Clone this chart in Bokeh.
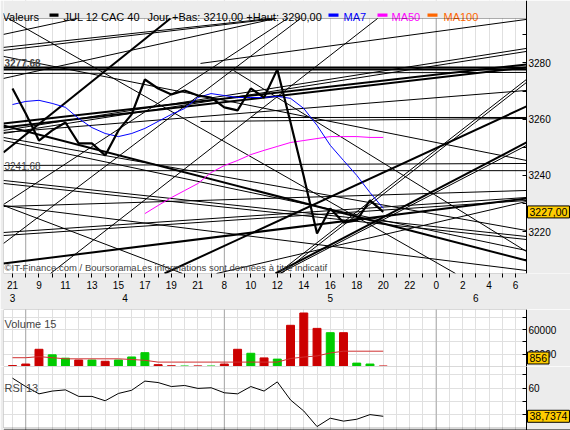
from bokeh.plotting import figure
from bokeh.models import (ColumnDataSource, FixedTicker, Range1d, Label, Span, BoxAnnotation, LinearAxis)
from bokeh.layouts import column
from bokeh.embed import file_html
from bokeh.resources import INLINE

FONT = "Liberation Sans"
BG = "#ECECEC"
W = 570

# ---------------- data ----------------
slots = list(range(29))
price = [3270.9, 3262.0, 3252.4, 3256.0, 3258.8, 3251.4, 3251.4, 3247.1, 3256.0, 3261.7,
         3274.1, 3270.9, 3268.8, 3270.2, 3268.4, 3267.7, 3264.2, 3263.1, 3270.9, 3267.7,
         3277.7, 3258.8, 3239.6, 3219.3, 3228.2, 3223.2, 3224.0, 3231.1, 3227.0]
ma7 = [3265.2, 3266.3, 3266.7, 3265.6, 3264.2, 3260.2, 3257.0, 3254.9, 3253.8, 3254.9,
       3256.7, 3259.2, 3261.7, 3263.8, 3267.7, 3269.1, 3268.4, 3267.7, 3267.7, 3267.7,
       3268.1, 3267.4, 3263.8, 3257.8, 3250.7, 3245.3, 3240.0, 3233.9, 3228.3]
ma50_slots = list(range(10, 29))
ma50 = [3226.4, 3229.3, 3232.1, 3234.6, 3237.1, 3241.0, 3243.5, 3245.3, 3247.4, 3248.9,
        3250.3, 3251.7, 3252.4, 3253.1, 3253.8, 3253.8, 3253.8, 3253.5, 3253.5]
volume = [1500, 4000, 28000, 19000, 13500, 10500, 10500, 8500, 10500, 15500,
          22500, 3000, 1200, 800, 1000, 800, 4000, 28000, 21500, 14000,
          12000, 67000, 87000, 62000, 55000, 55000, 5500, 4000, 856]
vol_up = [0, 0, 0, 1, 1, 0, 1, 0, 1, 1,
          1, 0, 0, 1, 0, 1, 0, 0, 1, 0,
          1, 0, 0, 0, 1, 0, 1, 1, 0]
vol_ma = [14300, 14300, 16000, 14300, 12500, 12500, 12500, 12500, 12500, 11400,
          10100, 7150, 7150, 7150, 7150, 7150, 7150, 7150, 7150, 7150,
          7150, 13000, 15400, 17200, 22000, 24900, 24900, 24900, 24900]
rsi = [67.4, 61.1, 55.6, 57.7, 58.6, 53.7, 53.7, 50.4, 55.9, 58.3,
       65.2, 64.1, 61.1, 61.9, 59.7, 60.2, 56.4, 55.6, 61.1, 57.7,
       64.6, 51.0, 42.7, 31.0, 37.3, 35.1, 36.5, 40.0, 38.74]

hour_slots = list(range(0, 39))
hour_labels = {0: "21", 2: "9", 4: "11", 6: "13", 8: "15", 10: "17", 12: "19", 14: "21",
               16: "8", 18: "10", 20: "12", 22: "14", 24: "16", 26: "18", 28: "20",
               30: "22", 32: "0", 34: "2", 36: "4", 38: "6"}
day_pos = [0, 8.5, 24, 35]
day_labels = ["3", "4", "5", "6"]
day_starts = [1, 16, 32]

# trend lines (slot, price); 38.82 = right edge of the chart area
thick_x0 = [-0.68, -0.68, -0.68, -0.68, -0.68, 11.48, 19.86, -0.68, -0.68]
thick_y0 = [3278.40, 3277.68, 3258.47, 3257.05, 3248.15, 3205.1, 3205.1, 3208.65, 3257.76]
thick_x1 = [38.82, 38.82, 38.82, 38.82, 11.93, 38.82, 38.82, 38.82, 38.82]
thick_y1 = [3278.40, 3277.68, 3279.47, 3278.40, 3295.8, 3264.52, 3251.71, 3231.78, 3209.72]

thin_x0 = [-0.68, -0.68, -0.68, -0.68, 16.69, -0.68, -0.68, 20.02, 20.32, 20.17,
           -0.68, -0.68, 15.41, -0.68, -0.68, -0.68, 17.98, 14.20, -0.68, -0.68,
           2.87, -0.30, -0.68, -0.68, -0.68, -0.68, -0.68, -0.68, -0.68, -0.68,
           14.20, -0.68]
thin_y0 = [3276.26, 3255.98, 3254.91, 3282.31, 3277.33, 3229.29, 3253.49, 3205.1, 3205.1, 3205.1,
           3219.68, 3218.61, 3205.1, 3228.93, 3243.52, 3241.68, 3260.60, 3259.18, 3255.27, 3215.77,
           3205.1, 3295.8, 3285.52, 3284.45, 3290.14, 3229.64, 3238.19, 3237.12, 3229.29, 3274.48,
           3279.82, 3252.42]
thin_x1 = [38.82, 38.82, 38.82, 38.82, 38.82, 38.82, 38.82, 38.82, 38.82, 38.82,
           38.82, 38.82, 38.82, 38.82, 38.82, 38.82, 38.82, 38.82, 38.82, 21.75,
           27.57, 33.46, 19.49, 19.94, 4.91, 20.77, 38.82, 38.82, 12.84, 19.86,
           38.82, 38.82]
thin_y1 = [3276.62, 3285.16, 3284.09, 3245.30, 3212.92, 3206.16, 3220.39, 3274.13, 3273.06, 3250.64,
           3232.14, 3231.07, 3230.71, 3234.63, 3244.23, 3241.68, 3260.60, 3260.25, 3270.21, 3295.8,
           3295.8, 3205.1, 3295.8, 3295.8, 3295.8, 3295.8, 3218.26, 3217.19, 3205.1, 3295.8,
           3295.48, 3213.27]

last_price = 3227.00
last_vol = 856
last_rsi = 38.7374

# ---------------- geometry ----------------
PX_SLOT = 13.24          # pixels per hour slot
SLOT0_PX = 12            # pixel x of slot 0
FRAME_L = 3              # frame starts at this pixel


def px2slot(px):
    return (px - SLOT0_PX) / PX_SLOT


X0 = px2slot(FRAME_L)    # left edge of chart area
X1 = px2slot(526)        # right edge of chart area (axis line)
XR = px2slot(W)          # right edge of the figure frame
GRID = "#E0E0E0"
DAYC = "#A8A8A8"


def box_label(fig, y, text, y_offset=0):
    fig.add_layout(Label(x=X1, y=y, x_offset=1, y_offset=y_offset, text=text, text_font=FONT,
                         text_font_size="10.5px", text_baseline="middle", text_align="left",
                         text_color="black", background_fill_color="#FFCC00",
                         border_line_color="black", padding=2))


def make_panel(height, y0, y1, ticks, labelled, border_bottom, border_top, min_bottom=0, xaxis=False):
    f = figure(width=W, height=height, x_range=Range1d(X0, XR), y_range=Range1d(y0, y1),
               toolbar_location=None, output_backend="svg",
               x_axis_location="below" if xaxis else None, y_axis_location=None,
               min_border_left=FRAME_L, min_border_right=0, min_border_top=0,
               min_border_bottom=min_bottom)
    f.background_fill_color = "white"
    f.border_fill_color = BG
    f.outline_line_color = None
    f.xgrid.ticker = FixedTicker(ticks=hour_slots)
    f.xgrid.grid_line_color = GRID
    f.ygrid.ticker = FixedTicker(ticks=ticks)
    f.ygrid.grid_line_color = GRID
    for d in day_starts:
        f.add_layout(Span(location=d, dimension="height", line_color=DAYC, line_width=1, level="underlay"))
    # grey area right of the chart (axis zone)
    f.add_layout(BoxAnnotation(left=X1, fill_color=BG, fill_alpha=1, line_color=None, level="underlay"))
    ax = LinearAxis(ticker=FixedTicker(ticks=ticks), fixed_location=X1,
                    major_label_overrides={t: (str(t) if t in labelled else "") for t in ticks},
                    major_label_text_font=FONT, major_label_text_font_size="10px",
                    major_label_text_color="black", major_tick_out=0, major_tick_in=4,
                    minor_tick_out=0, minor_tick_in=0, major_label_standoff=2,
                    axis_line_color="black")
    f.add_layout(ax, "right")
    f.add_layout(BoxAnnotation(right=X1, bottom=border_bottom, top=border_top, fill_alpha=0,
                               line_color="black", line_width=1, level="overlay"))
    return f


# ---------------- main price panel (header included at the top) ----------------
P_BOT, P_TOP = 3205.1, 3295.8
p = make_panel(309, P_BOT, P_TOP + 18 / 2.81, [3210, 3220, 3230, 3240, 3250, 3260, 3270, 3280, 3290],
               [3220, 3240, 3260, 3280], P_BOT, P_TOP, min_bottom=36, xaxis=True)
p.ygrid.visible = False
# header strip
p.add_layout(BoxAnnotation(bottom=P_TOP, right=X1, fill_color=BG, fill_alpha=1, line_color=None,
                           level="underlay"))
hdr_items = [("Valeurs", 2, "black"), ("JUL 12 CAC 40", 63, "black"),
             ("Jour +Bas: 3210,00 +Haut: 3290,00", 147, "black"),
             ("MA7", 343, "#0000FF"), ("MA50", 391, "#FF00FF"), ("MA100", 443, "#FF6600")]
for t, x, c in hdr_items:
    p.add_layout(Label(x=X0, x_offset=x - FRAME_L, y=P_TOP, y_offset=1.5, text=t, text_color=c,
                       text_font=FONT, text_font_size="11px", text_baseline="alphabetic"))
for l, r_, c in [(49, 58, "black"), (328, 338, "#0000FF"), (377, 387, "#FF00FF"), (427, 437, "#FF6600")]:
    p.add_layout(BoxAnnotation(left=px2slot(l), right=px2slot(r_), bottom=P_TOP + 0.6,
                               top=P_TOP + 1.8, fill_color=c, fill_alpha=1, line_color=None))

xa = p.xaxis[0]
xa.ticker = FixedTicker(ticks=hour_slots)
xa.major_label_overrides = {s: hour_labels.get(s, "") for s in hour_slots}
xa.major_label_text_font = FONT
xa.major_label_text_font_size = "10px"
xa.major_label_text_color = "black"
xa.major_tick_out = 4
xa.major_tick_in = 0
xa.minor_tick_out = 0
xa.minor_tick_in = 0
xa.major_label_standoff = 3
xa.axis_line_color = None
xa.major_tick_line_color = "black"

dax = LinearAxis(ticker=FixedTicker(ticks=day_pos),
                 major_label_overrides={d: l for d, l in zip(day_pos, day_labels)},
                 major_tick_out=0, major_tick_in=0, minor_tick_out=0, minor_tick_in=0,
                 axis_line_color=None, major_label_standoff=2,
                 major_label_text_font=FONT, major_label_text_font_size="10px",
                 major_label_text_color="black")
p.add_layout(dax, "below")

p.segment(x0=thin_x0, y0=thin_y0, x1=thin_x1, y1=thin_y1, line_color="black", line_width=1)
p.segment(x0=thick_x0, y0=thick_y0, x1=thick_x1, y1=thick_y1, line_color="black", line_width=2)
p.line(ma50_slots, ma50, line_color="#FF00FF", line_width=1)
p.line(slots, ma7, line_color="#0000FF", line_width=1)
p.line(slots, price, line_color="black", line_width=2.2)

p.add_layout(Label(x=X0, x_offset=1, y=3277.68, y_offset=2, text="3277,68", text_font=FONT,
                   text_font_size="10px", text_font_style="bold", text_baseline="bottom"))
p.add_layout(Label(x=X0, x_offset=1, y=3241.68, y_offset=1, text="3241,68", text_font=FONT,
                   text_font_size="10px", text_baseline="bottom"))
p.add_layout(Label(x=X0, x_offset=1, y=P_BOT, y_offset=1,
                   text="©IT-Finance.com / BoursoramaLes informations sont données à titre indicatif",
                   text_font=FONT, text_font_size="9.5px", text_baseline="bottom"))
box_label(p, last_price, "3227,00")

# ---------------- volume panel ----------------
v = make_panel(57, 0, 92700, [20000, 40000, 60000, 80000], [20000, 60000], 0, 92700)
vsrc = ColumnDataSource(dict(x=slots, top=volume,
                             color=["#00CC00" if u else "#CC0000" for u in vol_up]))
v.vbar(x="x", top="top", width=0.6, fill_color="color", line_color="color", source=vsrc)
v.line(slots, vol_ma, line_color="#D03030", line_width=1)
v.add_layout(Label(x=X0, x_offset=1, y=69000, text="Volume 15", text_font=FONT,
                   text_font_size="11px", text_baseline="alphabetic"))
box_label(v, last_vol, "856", y_offset=8)

# ---------------- RSI panel ----------------
R_BOT, R_TOP = 28.05, 76.17
r = make_panel(64, R_BOT, R_TOP, [40, 50, 60, 70], [40, 60], 29.92, R_TOP)
r.add_layout(Span(location=28.42, dimension="width", line_color="black", line_width=1))
r.line(slots, rsi, line_color="black", line_width=1)
r.add_layout(Label(x=X0, x_offset=1, y=60.3, text="RSI 13", text_font=FONT,
                   text_font_size="11px", text_baseline="alphabetic"))
box_label(r, last_rsi, "38,7374")

layout = column(p, v, r, spacing=0)
open("out.html", "w").write(file_html(layout, INLINE))
